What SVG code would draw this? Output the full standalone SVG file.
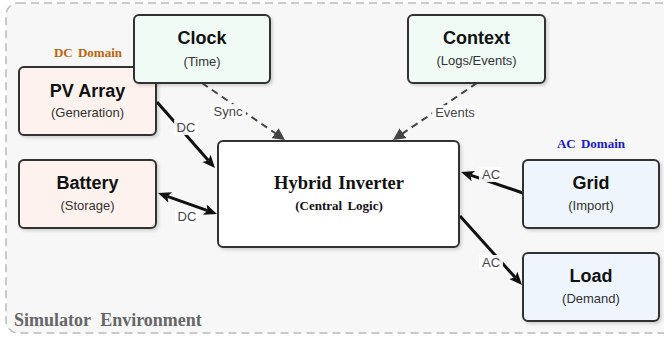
<svg xmlns="http://www.w3.org/2000/svg" width="664" height="339" viewBox="0 0 664 339">
  <defs>
    <filter id="sh" x="-10%" y="-10%" width="130%" height="140%">
      <feDropShadow dx="2" dy="2" stdDeviation="1.5" flood-color="#000" flood-opacity="0.15"/>
    </filter>
    <marker id="ah" markerUnits="userSpaceOnUse" markerWidth="14" markerHeight="12" refX="3" refY="6" orient="auto-start-reverse">
      <path d="M0,0.5 L13,6 L0,11.5 L3,6 z" fill="#111"/>
    </marker>
    <marker id="ahg" markerUnits="userSpaceOnUse" markerWidth="14" markerHeight="12" refX="2" refY="6" orient="auto">
      <path d="M0,0 L12,6 L0,12 z" fill="#444"/>
    </marker>
  </defs>
  <style>
    .box { stroke: #333; stroke-width: 2; filter: url(#sh); }
    .dc { fill: #fdf2ed; }
    .sys { fill: #f0fbf6; }
    .ac { fill: #eef5fd; }
    .title { font-family: "Liberation Sans", Arial, sans-serif; font-weight: bold; font-size: 18px; fill: #111; text-anchor: middle; }
    .sub { font-family: "Liberation Sans", Arial, sans-serif; font-size: 13px; fill: #333; text-anchor: middle; }
    .solid { stroke: #111; stroke-width: 3; fill: none; marker-end: url(#ah); }
    .dash { stroke: #444; stroke-width: 2; stroke-dasharray: 7 5; fill: none; marker-end: url(#ahg); }
    .lbg { fill: #fff; fill-opacity: 0.9; }
    .lbl { font-family: "Liberation Sans", Arial, sans-serif; font-size: 13px; fill: #444; text-anchor: middle; }
    .dom { font-family: "Liberation Serif", "Times New Roman", serif; font-weight: bold; font-size: 13px; text-anchor: middle; word-spacing: 2px; }
  </style>

  <g id="environment">
    <rect x="6" y="3" width="670" height="330" rx="12" fill="#f7f7f7" stroke="#bbb" stroke-width="1.5" stroke-dasharray="8 5"/>
    <text x="14" y="326" font-family="&quot;Liberation Serif&quot;, 'Times New Roman', serif" font-weight="bold" font-size="18" word-spacing="5" fill="#666">Simulator Environment</text>
  </g>

  <text class="dom" x="88" y="57" fill="#c0640c">DC Domain</text>
  <text class="dom" x="591" y="148" fill="#1a1acc">AC Domain</text>

  <g id="connectors">
    <line class="solid" x1="157" y1="102" x2="208.4" y2="160.5"/>
    <line class="dash" x1="202" y1="83" x2="276.8" y2="134.3"/>
    <line class="dash" x1="477" y1="83" x2="401.3" y2="134.4"/>
    <line class="solid" x1="167.4" y1="196.4" x2="207.6" y2="210.6" marker-start="url(#ah)"/>
    <line class="solid" x1="523" y1="193" x2="470.5" y2="175.2"/>
    <line class="solid" x1="460" y1="216" x2="515.3" y2="277.6"/>

    <rect class="lbg" x="174" y="120" width="24" height="15"/>
    <text class="lbl" x="186" y="132">DC</text>
    <rect class="lbg" x="210" y="104" width="36" height="15"/>
    <text class="lbl" x="228" y="116">Sync</text>
    <rect class="lbg" x="432" y="105" width="46" height="15"/>
    <text class="lbl" x="455" y="117">Events</text>
    <rect class="lbg" x="175" y="209" width="24" height="15"/>
    <text class="lbl" x="187" y="221">DC</text>
    <rect class="lbg" x="479" y="167" width="24" height="15"/>
    <text class="lbl" x="491" y="179">AC</text>
    <rect class="lbg" x="479" y="255" width="24" height="15"/>
    <text class="lbl" x="491" y="267">AC</text>
  </g>

  <g id="pv">
    <rect class="box dc" x="19" y="67" width="137" height="68" rx="5"/>
    <text class="title" x="87.5" y="97">PV Array</text>
    <text class="sub" x="87.5" y="117">(Generation)</text>
  </g>
  <g id="clock">
    <rect class="box sys" x="134" y="15" width="136" height="68" rx="5"/>
    <text class="title" x="202" y="44">Clock</text>
    <text class="sub" x="202" y="66">(Time)</text>
  </g>
  <g id="context">
    <rect class="box sys" x="408" y="15" width="137" height="68" rx="5"/>
    <text class="title" x="476.5" y="44">Context</text>
    <text class="sub" x="476.5" y="65">(Logs/Events)</text>
  </g>
  <g id="battery">
    <rect class="box dc" x="19" y="160" width="137" height="68" rx="5"/>
    <text class="title" x="87.5" y="189">Battery</text>
    <text class="sub" x="87.5" y="210">(Storage)</text>
  </g>
  <g id="inverter">
    <rect class="box" x="218" y="141" width="241" height="106" rx="5" fill="#fff"/>
    <text x="339" y="189" font-family="&quot;Liberation Serif&quot;, 'Times New Roman', serif" font-weight="bold" font-size="18.5" word-spacing="2" fill="#111" text-anchor="middle">Hybrid Inverter</text>
    <text x="339" y="210" font-family="&quot;Liberation Serif&quot;, 'Times New Roman', serif" font-weight="bold" font-size="13" word-spacing="2" fill="#111" text-anchor="middle">(Central Logic)</text>
  </g>
  <g id="grid">
    <rect class="box ac" x="523" y="160" width="136" height="68" rx="5"/>
    <text class="title" x="591" y="189">Grid</text>
    <text class="sub" x="591" y="210">(Import)</text>
  </g>
  <g id="load">
    <rect class="box ac" x="523" y="253" width="136" height="68" rx="5"/>
    <text class="title" x="591" y="282">Load</text>
    <text class="sub" x="591" y="303">(Demand)</text>
  </g>
</svg>
